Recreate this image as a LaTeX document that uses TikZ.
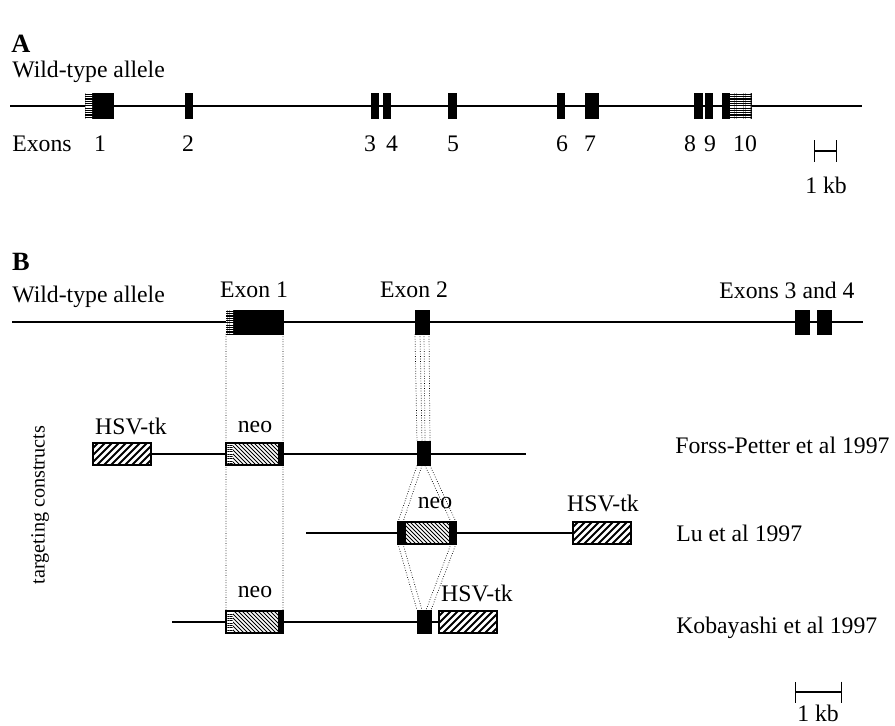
\documentclass[tikz,border=0pt]{standalone}
\usepackage{fontspec}
\setmainfont{Liberation Serif}
\usetikzlibrary{arrows.meta,patterns.meta,positioning,backgrounds}
\tikzset{
  lbl/.style={font=\fontsize{13.5}{16}\selectfont,inner sep=0pt},
  panel/.style={font=\fontsize{15}{18}\selectfont\bfseries,inner sep=0pt},
  dna/.style={line width=1pt},
  arm/.style={line width=0.8pt},
  exon/.style={fill=black,draw=black,line width=0.4pt,inner sep=0pt,outer sep=0pt,
    minimum height=0.5cm},
  neo/.style={draw=black,line width=0.6pt,inner sep=0pt,outer sep=0pt,fill=white,
    minimum width=1.14cm,minimum height=0.44cm,
    path picture={\foreach \k in {-24,-20,...,60}
      \draw[line width=0.55pt] ([xshift=\k*0.02cm]path picture bounding box.north west) -- ++(24,24);}},
  tk/.style={draw=black,line width=0.6pt,inner sep=0pt,outer sep=0pt,fill=white,
    minimum width=1.16cm,minimum height=0.44cm,
    path picture={\foreach \k in {-24,-17,...,60}
      \draw[line width=1.1pt] ([xshift=\k*0.02cm]path picture bounding box.south west) -- ++(24,-24);}},
  stripes/.style={pattern={Lines[angle=0,distance=1.3pt,line width=0.6pt]}},
  guide/.style={densely dotted,line width=0.4pt},
  kb/.style={line width=0.6pt,{Bar[width=#1]}-{Bar[width=#1]}},
}

\begin{document}
\begin{tikzpicture}[x=0.02cm,y=-0.02cm]
\useasboundingbox (0,0) rectangle (895,726);
% panel A
\node[panel] (pa) at (21,44) {A};
\node[lbl,anchor=west] (wta) at (12,72) {Wild-type allele};
\coordinate (a0) at (10,106);
\coordinate (a1) at (862,106);
\draw[dna] (a0) -- (a1);
\foreach \n/\x/\w in {1/99/28,2/188.5/7,3/374.5/7,4/386.5/7,5/452.5/8,
                      6/560.5/7,7/591.5/13,8/698/8,9/708.5/7,10/736.5/29}
  \node[exon,minimum width=\w*0.02cm] (ea\n) at (\x,106) {};
\fill[stripes,pattern color=white] (ea1.north west) rectangle ([xshift=0.14cm]ea1.south west);
\fill[stripes,pattern color=white] ([xshift=0.16cm]ea10.north west) rectangle (ea10.south east);
\node[lbl,anchor=west] (exa) at (12,144) {Exons};
\foreach \n/\x in {1/100,2/188,3/370,4/392,5/453,6/562,7/590,8/690,9/710,10/745}
  \node[lbl] (na\n) at (\x,144) {\n};
\coordinate (sa0) at (814,151);
\coordinate (sa1) at (837,151);
\draw[kb=0.44cm] (sa0) -- (sa1);
\node[lbl] (kba) at (826,185) {1 kb};
% panel B
\node[panel] (pb) at (21,262) {B};
\node[lbl,anchor=west] (wtb) at (12,297) {Wild-type allele};
\coordinate (b0) at (12,322);
\coordinate (b1) at (863,322);
\draw[dna] (b0) -- (b1);
\foreach \n/\x/\w in {1/254.5/57,2/422/14,3/802/14,4/824/14}
  \node[exon,minimum width=\w*0.02cm,minimum height=0.48cm] (eb\n) at (\x,322) {};
\fill[stripes,pattern color=white] (eb1.north west) rectangle ([xshift=0.14cm]eb1.south west);
\node[lbl] (xb1) at (254,290) {Exon 1};
\node[lbl] (xb2) at (414,290) {Exon 2};
\node[lbl] (xb3) at (787,290) {Exons 3 and 4};
\node[lbl,rotate=90,font=\fontsize{11.5}{14}\selectfont] (tc) at (40,505) {targeting constructs};
% Forss-Petter
\node[tk] (fptk) at (122,454) {};
\node[lbl] (fptkl) at (131,426) {HSV-tk};
\coordinate (fp1) at (526,454);
\draw[arm] (fptk.east) -- (fp1);
\node[neo] (fpneo) at (254.5,454) {};
\node[lbl] (fpneol) at (255,427) {neo};
\node[exon,minimum width=0.26cm,minimum height=0.48cm] (fpe2) at (423.5,453.5) {};
\node[lbl,anchor=west] (fpref) at (675,445) {Forss-Petter et al 1997};
% Lu
\coordinate (lu0) at (306,533);
\node[tk] (lutk) at (602,533) {};
\draw[arm] (lu0) -- (lutk.west);
\node[lbl] (lutkl) at (603,503) {HSV-tk};
\node[neo,minimum width=1.16cm] (luneo) at (427,533) {};
\fill (luneo.north west) rectangle ([xshift=0.16cm]luneo.south west);
\fill (luneo.north east) rectangle ([xshift=-0.14cm]luneo.south east);
\node[lbl] (luneol) at (435,503) {neo};
\node[lbl,anchor=west] (luref) at (676,533) {Lu et al 1997};
% Kobayashi
\coordinate (kb0) at (172,622);
\node[tk] (kbtk) at (468,622) {};
\draw[arm] (kb0) -- (kbtk.west);
\node[lbl] (kbtkl) at (477,593) {HSV-tk};
\node[neo] (kbneo) at (254.5,622) {};
\node[lbl] (kbneol) at (255,592) {neo};
\node[exon,minimum width=0.28cm,minimum height=0.46cm] (kbe2) at (424,621.5) {};
\node[lbl,anchor=west] (kbref) at (676,628) {Kobayashi et al 1997};
\foreach \b in {fpneo,kbneo}{
  \fill[white] (\b.north west) rectangle ([xshift=0.13cm]\b.south west);
  \fill[stripes] (\b.north west) rectangle ([xshift=0.13cm]\b.south west);
  \fill (\b.north east) rectangle ([xshift=-0.11cm]\b.south east);
  \draw[line width=0.6pt] (\b.north west) rectangle (\b.south east);
}
\begin{scope}[on background layer]
\draw[guide] (eb1.south west) -- (kbneo.south west);
\draw[guide] (eb1.south east) -- (kbneo.south east);
\foreach \s in {0,0.1}{
  \draw[guide] ([xshift=\s cm]eb2.south west) -- ([xshift=\s cm]fpe2.north west);
  \draw[guide] ([xshift=-\s cm]eb2.south east) -- ([xshift=-\s cm]fpe2.north east);
  \draw[guide] ([xshift=\s cm]fpe2.south west) -- ([xshift=\s cm]luneo.north west);
  \draw[guide] ([xshift=-\s cm]fpe2.south east) -- ([xshift=-\s cm]luneo.north east);
  \draw[guide] ([xshift=\s cm]luneo.south west) -- ([xshift=\s cm]kbe2.north west);
  \draw[guide] ([xshift=-\s cm]luneo.south east) -- ([xshift=-\s cm]kbe2.north east);
}
\end{scope}
% scale bar B
\coordinate (sb0) at (795,692);
\coordinate (sb1) at (842,692);
\draw[kb=0.42cm] (sb0) -- (sb1);
\node[lbl] (kbb) at (818,713) {1 kb};
\end{tikzpicture}
\end{document}
